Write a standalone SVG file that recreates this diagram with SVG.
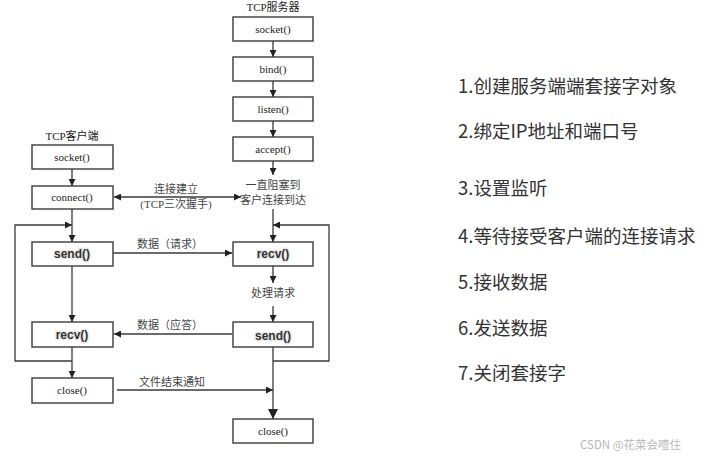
<svg xmlns="http://www.w3.org/2000/svg" width="704" height="460" viewBox="0 0 704 460">
<defs>
<style>
.box{fill:#fff;stroke:#3a3a3a;stroke-width:1.4}
.fn{font-family:"Liberation Serif","Noto Sans CJK SC",serif;font-size:11px;fill:#222;text-anchor:middle;dominant-baseline:central}
.fnb{font-family:"Liberation Sans","Noto Sans CJK SC",sans-serif;font-size:12px;font-weight:bold;fill:#333;text-anchor:middle;dominant-baseline:central;stroke:#e8e8e8;stroke-width:2.5;paint-order:stroke}
.lbl{font-family:"Liberation Serif","Noto Sans CJK SC",serif;font-size:11px;fill:#444;text-anchor:middle;dominant-baseline:central}
.ln{fill:none;stroke:#3a3a3a;stroke-width:1.3}
.step{font-family:"Noto Sans CJK SC",sans-serif;font-size:18.5px;fill:#333;dominant-baseline:central}
.wm{font-family:"Noto Sans CJK SC",sans-serif;font-size:11.5px;fill:#b8b8b8;dominant-baseline:central}
</style>
<marker id="ah" viewBox="0 0 10 10" refX="10" refY="5" markerWidth="7" markerHeight="7" markerUnits="userSpaceOnUse" orient="auto-start-reverse">
<path d="M0,0 L10,5 L0,10 z" fill="#222"/>
</marker>
<marker id="ahb" viewBox="0 0 10 10" refX="10" refY="5" markerWidth="10" markerHeight="10" markerUnits="userSpaceOnUse" orient="auto">
<path d="M0,0 L10,5 L0,10 z" fill="#222"/>
</marker>
</defs>
<rect width="704" height="460" fill="#fff"/>

<g id="connectors">
<line class="ln" x1="273" y1="41" x2="273" y2="57" marker-end="url(#ah)"/>
<line class="ln" x1="273" y1="81" x2="273" y2="97" marker-end="url(#ah)"/>
<line class="ln" x1="273" y1="121" x2="273" y2="137" marker-end="url(#ah)"/>
<line class="ln" x1="273" y1="161" x2="273" y2="175" marker-end="url(#ah)"/>
<line class="ln" x1="72" y1="169" x2="72" y2="186" marker-end="url(#ah)"/>
<line class="ln" x1="114" y1="197" x2="241" y2="197" marker-start="url(#ah)" marker-end="url(#ah)"/>
<line class="ln" x1="273" y1="209" x2="273" y2="242" marker-end="url(#ah)"/>
<line class="ln" x1="72" y1="209" x2="72" y2="242" marker-end="url(#ah)"/>
<polyline class="ln" points="72,361 15,361 15,225 72,225" marker-end="url(#ah)"/>
<polyline class="ln" points="273,361 329,361 329,225 273,225" marker-end="url(#ah)"/>
<line class="ln" x1="113" y1="253" x2="232" y2="253" marker-end="url(#ah)"/>
<line class="ln" x1="72" y1="266" x2="72" y2="322" marker-end="url(#ah)"/>
<line class="ln" x1="273" y1="266" x2="273" y2="283" marker-end="url(#ah)"/>
<line class="ln" x1="273" y1="306" x2="273" y2="322" marker-end="url(#ah)"/>
<line class="ln" x1="232" y1="334" x2="114" y2="334" marker-end="url(#ah)"/>
<line class="ln" x1="72" y1="347" x2="72" y2="378" marker-end="url(#ah)"/>
<line class="ln" x1="117" y1="390" x2="273" y2="390" marker-end="url(#ah)"/>
<line class="ln" x1="273" y1="347" x2="273" y2="419" marker-end="url(#ahb)"/>
<text class="lbl" x="176" y="189">连接建立</text>
<text class="lbl" x="176" y="204">(TCP三次握手)</text>
<text class="lbl" x="170" y="244">数据（请求）</text>
<text class="lbl" x="170" y="325">数据（应答）</text>
<text class="lbl" x="172" y="382">文件结束通知</text>
<text class="lbl" x="273" y="293">处理请求</text>
<text class="lbl" x="273" y="185">一直阻塞到</text>
<text class="lbl" x="273" y="200">客户连接到达</text>
</g>

<g id="server-title"><text class="fn" x="273" y="7">TCP服务器</text></g>
<g id="client-title"><text class="fn" x="72" y="136">TCP客户端</text></g>

<g id="s-socket"><rect class="box" x="233" y="17" width="80" height="24"/><text class="fn" x="273" y="29">socket()</text></g>
<g id="s-bind"><rect class="box" x="233" y="57" width="80" height="24"/><text class="fn" x="273" y="69">bind()</text></g>
<g id="s-listen"><rect class="box" x="233" y="97" width="80" height="24"/><text class="fn" x="273" y="109">listen()</text></g>
<g id="s-accept"><rect class="box" x="233" y="137" width="80" height="24"/><text class="fn" x="273" y="149">accept()</text></g>
<g id="s-recv"><rect class="box" x="233" y="242" width="80" height="24"/><text class="fnb" x="273" y="254">recv()</text></g>
<g id="s-send"><rect class="box" x="233" y="322" width="80" height="25"/><text class="fnb" x="273" y="336">send()</text></g>
<g id="s-close"><rect class="box" x="233" y="419" width="80" height="24"/><text class="fn" x="273" y="431">close()</text></g>

<g id="c-socket"><rect class="box" x="32" y="145" width="81" height="24"/><text class="fn" x="72" y="157">socket()</text></g>
<g id="c-connect"><rect class="box" x="32" y="186" width="81" height="23"/><text class="fn" x="72" y="197">connect()</text></g>
<g id="c-send"><rect class="box" x="32" y="242" width="81" height="24"/><text class="fnb" x="72" y="254">send()</text></g>
<g id="c-recv"><rect class="box" x="32" y="322" width="81" height="25"/><text class="fnb" x="72" y="335">recv()</text></g>
<g id="c-close"><rect class="box" x="32" y="378" width="81" height="25"/><text class="fn" x="72" y="390">close()</text></g>

<g id="steps">
<text class="step" x="458" y="85">1.创建服务端端套接字对象</text>
<text class="step" x="458" y="130">2.绑定IP地址和端口号</text>
<text class="step" x="458" y="187">3.设置监听</text>
<text class="step" x="458" y="235">4.等待接受客户端的连接请求</text>
<text class="step" x="458" y="281">5.接收数据</text>
<text class="step" x="458" y="327">6.发送数据</text>
<text class="step" x="458" y="372">7.关闭套接字</text>
</g>
<text class="wm" x="580" y="444">CSDN @花菜会噎住</text>
</svg>
